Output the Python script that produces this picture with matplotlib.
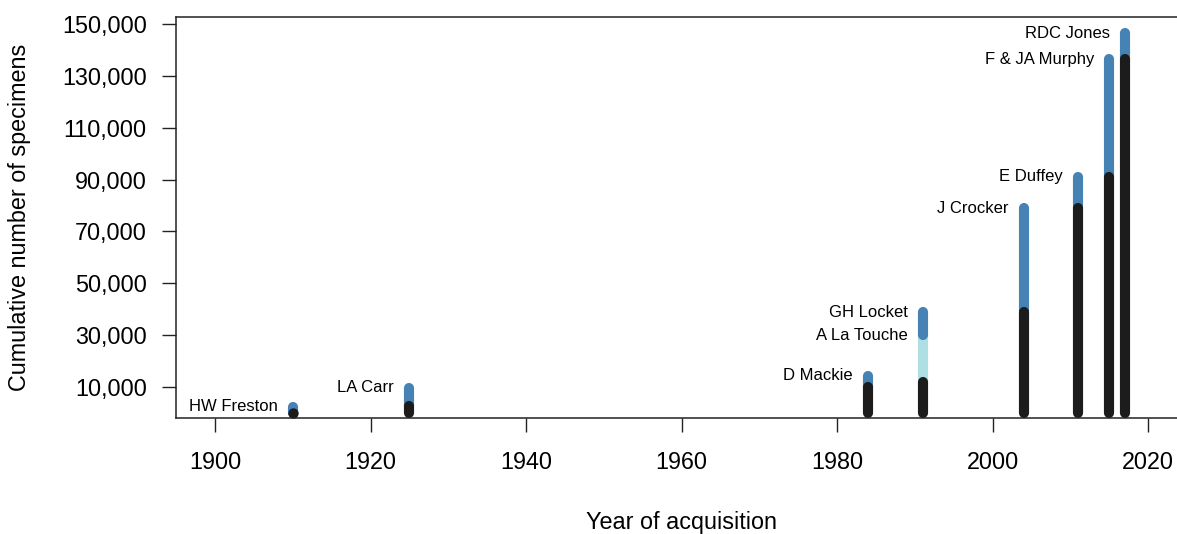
import matplotlib.pyplot as plt
from matplotlib.ticker import FuncFormatter

plt.rcParams['font.family'] = ['Liberation Sans', 'DejaVu Sans']

# one entry per donated collection: year, start and end of the cumulative count
names = ['HW Freston', 'LA Carr', 'D Mackie', 'A La Touche', 'GH Locket',
         'J Crocker', 'E Duffey', 'F & JA Murphy', 'RDC Jones']
years = [1910, 1925, 1984, 1991, 1991, 2004, 2011, 2015, 2017]
start = [0, 2500, 9900, 11900, 30000, 38800, 78900, 91100, 136500]
end = [2400, 9700, 14400, 30000, 38800, 78900, 91100, 136500, 146400]
colours = ['#4682B4', '#4682B4', '#4682B4', '#ADDFE5', '#4682B4',
           '#4682B4', '#4682B4', '#4682B4', '#4682B4']

# holdings before each acquisition year (black part of the bars)
base_years = [1910, 1925, 1984, 1991, 2004, 2011, 2015, 2017]
base_vals = [0, 2500, 9900, 11900, 38800, 78900, 91100, 136500]

y_ticks = [10000, 30000, 50000, 70000, 90000, 110000, 130000, 150000]
x_ticks = [1900, 1920, 1940, 1960, 1980, 2000, 2020]

W, H = 1177, 534
fig = plt.figure(figsize=(W / 100, H / 100), dpi=100)
ax = fig.add_axes([176 / W, 1 - 418 / H, 1 - 176 / W, (418 - 17) / H])

lw = 7.3
for yr, s, e, c in zip(years, start, end, colours):
    ax.plot([yr, yr], [s, e], color=c, lw=lw, solid_capstyle='round')
for yr, v in zip(base_years, base_vals):
    if v == 0:
        # zero length bar: round cap alone is not drawn, use a dot
        ax.plot([yr], [0], 'o', color='#1c1c1c', ms=lw * 1.02, mew=0)
    else:
        ax.plot([yr, yr], [0, v], color='#1c1c1c', lw=lw, solid_capstyle='round')

for name, yr, e in zip(names, years, end):
    ax.annotate(name, xy=(yr, e), xytext=(-11, 0), textcoords='offset points',
                ha='right', va='center', fontsize=12)

ax.set_xlim(1894.98, 2023.7)
ax.set_ylim(-1956, 152700)
ax.set_xticks(x_ticks)
ax.set_yticks(y_ticks)
ax.yaxis.set_major_formatter(FuncFormatter(lambda v, p: f'{int(v):,}'))
ax.tick_params(axis='both', labelsize=16.8, length=10, width=1, color='#222222')
ax.tick_params(axis='x', pad=14)
ax.tick_params(axis='y', pad=11)
ax.spines['right'].set_visible(False)
for sp in ['left', 'top', 'bottom']:
    ax.spines[sp].set_linewidth(1.1)
    ax.spines[sp].set_color('#222222')

fig.text(681 / W, 1 - 522 / H, 'Year of acquisition', ha='center', va='center', fontsize=16.8)
fig.text(20 / W, 1 - 217 / H, 'Cumulative number of specimens', ha='center', va='center',
         rotation=90, fontsize=16.8)

fig.savefig('out.png', dpi=100)
